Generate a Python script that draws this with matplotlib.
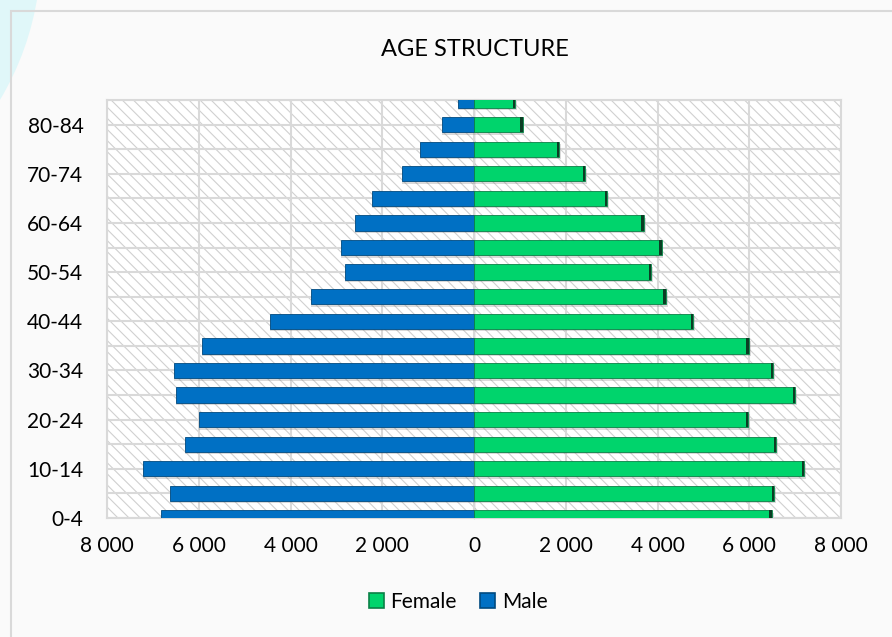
import numpy as np
import matplotlib.pyplot as plt
from matplotlib.patches import Circle, Rectangle, Patch

plt.rcParams['font.family'] = ['Lato', 'DejaVu Sans']
plt.rcParams['hatch.linewidth'] = 0.8

# population by five-year age group, bottom to top
age_groups = ['0-4', '5-9', '10-14', '15-19', '20-24', '25-29', '30-34', '35-39', '40-44',
              '45-49', '50-54', '55-59', '60-64', '65-69', '70-74', '75-79', '80-84', '85+']
male = np.array([6820, 6630, 7220, 6310, 6000, 6490, 6530, 5930, 4440,
                 3550, 2810, 2890, 2600, 2220, 1560, 1180, 690, 350])
female = np.array([6490, 6540, 7190, 6580, 5970, 7000, 6520, 5990, 4770,
                   4180, 3860, 4090, 3700, 2900, 2420, 1860, 1060, 890])
x_ticks = [-8000, -6000, -4000, -2000, 0, 2000, 4000, 6000, 8000]

GREEN, GREEN_DARK = '#00D46C', '#0A8046'
BLUE, BLUE_DARK = '#0070C4', '#004A80'
GRID = '#D9D9D9'

fig = plt.figure(figsize=(8.92, 6.37), dpi=100, facecolor='#FAFAFA')

# decorative background arc and card frame
fig.add_artist(Circle((-2.48, 6.855), 2.89, transform=fig.dpi_scale_trans,
                      facecolor='#E0F7F9', edgecolor='none', zorder=-3))
fig.add_artist(Rectangle((0.11, -0.5), 10, 6.26 + 0.5, transform=fig.dpi_scale_trans,
                         fill=False, edgecolor=GRID, lw=1.5, zorder=-2))

ax = fig.add_axes([107 / 892, 1 - 518 / 637, 734 / 892, 418 / 637])
ax.patch.set_facecolor('white')
ax.patch.set_edgecolor('#D0D0D0')
ax.patch.set_linewidth(0)
ax.patch.set_hatch('\\\\\\')

y = np.arange(len(age_groups))
h = 0.62

# soft drop shadow under each bar
ax.barh(y - 0.1, -male, height=h, color='#7a7a7a', alpha=0.28, zorder=2)
ax.barh(y - 0.1, female + 40, height=h, color='#7a7a7a', alpha=0.28, zorder=2)

ax.barh(y, -male, height=h, color=BLUE, edgecolor=BLUE_DARK, lw=0.6, zorder=3)
ax.barh(y, female, height=h, color=GREEN, edgecolor=GREEN_DARK, lw=0.6, zorder=3)
# darker bevelled tip at the end of the female bars
ax.barh(y, 50, left=female - 50, height=h, color='#0B3D24', lw=0, zorder=4)

ax.set_xlim(-8000, 8000)
ax.set_ylim(0, len(age_groups) - 1)
ax.set_xticks(x_ticks)
ax.set_xticklabels([f'{abs(v):,}'.replace(',', ' ') for v in x_ticks])
ax.set_yticks(y)
ax.set_yticklabels([g if i % 2 == 0 else '' for i, g in enumerate(age_groups)])
ax.tick_params(axis='x', length=0, pad=13, labelsize=15)
ax.tick_params(axis='y', length=0, pad=17, labelsize=15)

ax.set_axisbelow(True)
ax.grid(True, color=GRID, lw=1.5)
for s in ax.spines.values():
    s.set_color(GRID)
    s.set_linewidth(1.5)

# category axis runs through zero
zero_axis = ax.secondary_yaxis(0.5)
zero_axis.set_yticks(y)
zero_axis.set_yticklabels([])
zero_axis.tick_params(length=3.5, width=1.5, color='#EDEDED')
zero_axis.spines['left'].set_color('#CFCFCF')
zero_axis.spines['left'].set_linewidth(1.2)

fig.text(475 / 892, 1 - 50 / 637, 'AGE STRUCTURE', ha='center', va='center', fontsize=17)

handles = [Patch(facecolor=GREEN, edgecolor=GREEN_DARK, lw=1.2, label='Female'),
           Patch(facecolor=BLUE, edgecolor=BLUE_DARK, lw=1.2, label='Male')]
fig.legend(handles=handles, loc='center', bbox_to_anchor=(458 / 892, 1 - 602 / 637),
           ncol=2, frameon=False, fontsize=15, handlelength=0.75, handleheight=0.75,
           handletextpad=0.3, columnspacing=1.1)

fig.savefig('out.png', dpi=100, facecolor=fig.get_facecolor())
